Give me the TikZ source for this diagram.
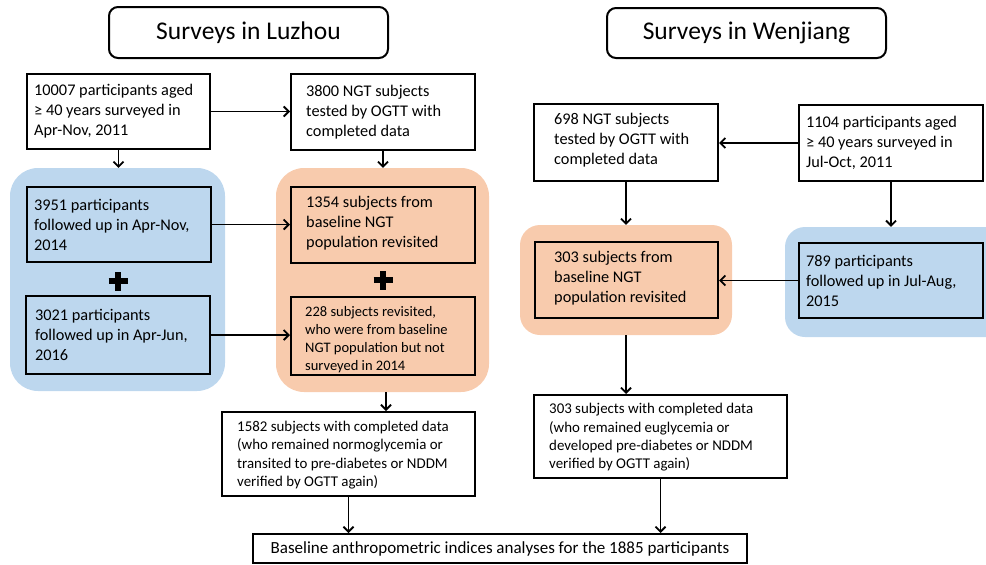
\documentclass[tikz,border=0pt]{standalone}
\usepackage{fontspec}
\setmainfont{Carlito}
\usetikzlibrary{arrows.meta}
\definecolor{regblue}{HTML}{BDD7EE}
\definecolor{regorange}{HTML}{F8CBAD}
\begin{document}
\begin{tikzpicture}[x=1pt,y=-1pt,
  box/.style={draw, line width=2pt, inner sep=0pt},
  txt/.style={anchor=west, align=left, inner sep=0pt},
  region/.style={inner sep=0pt, rounded corners=28pt},
  sregion/.style={inner sep=0pt, rounded corners=20pt},
  titlebox/.style={draw, line width=2pt, rounded corners=9pt, inner sep=0pt, font=\fontsize{25.5}{30}\selectfont},
  arr/.style={line width=1.8pt, -{Straight Barb[length=5pt,width=10pt]}},
  bigfont/.style={font=\fontsize{16.3}{20}\selectfont},
  midfont/.style={font=\fontsize{14.9}{18.3}\selectfont},
  smallfont/.style={font=\fontsize{14.5}{18}\selectfont},
  plusmark/.style={line width=5.5pt}
]
\useasboundingbox (0,0) rectangle (986,565);

% background regions
\node[region, fill=regblue, minimum width=215pt, minimum height=223pt] (regLB) at (117.5,279.5) {};
\node[region, fill=regorange, minimum width=213pt, minimum height=224pt] (regLO) at (382.5,280) {};
\node[sregion, fill=regorange, minimum width=212pt, minimum height=110pt] (regRO) at (626,280) {};
\begin{scope}
\clip (0,0) rectangle (986,565);
\node[sregion, fill=regblue, minimum width=225pt, minimum height=110pt] (regRB) at (897.5,282) {};
\end{scope}

% titles
\node[titlebox, minimum width=279pt, minimum height=51pt] (tL) at (248.5,32.5) {Surveys in Luzhou\hspace{19pt}};
\node[titlebox, minimum width=279pt, minimum height=50pt] (tW) at (746.5,33) {Surveys in Wenjiang};

% Luzhou boxes
\node[box, fill=white, minimum width=183pt, minimum height=75pt] (A) at (118.5,111.5) {};
\node[txt, bigfont] (At) at ([xshift=8pt]A.west) {10007 participants aged\\ ≥ 40 years surveyed in\\ Apr-Nov, 2011};
\node[box, fill=white, minimum width=184pt, minimum height=76pt] (B) at (383,112) {};
\node[txt, bigfont] (Bt) at ([xshift=16pt]B.west) {3800 NGT subjects\\ tested by OGTT with\\ completed data};
\node[box, fill=regblue, minimum width=184pt, minimum height=75pt] (C) at (119,224.5) {};
\node[txt, bigfont] (Ct) at ([xshift=8pt]C.west) {3951 participants\\ followed up in Apr-Nov,\\ 2014};
\node[box, fill=regorange, minimum width=184pt, minimum height=76pt] (D) at (383,225) {};
\node[txt, bigfont] (Dt) at ([xshift=16pt,yshift=2pt]D.west) {1354 subjects from\\ baseline NGT\\ population revisited};
\node[box, fill=regblue, minimum width=184pt, minimum height=78pt] (E) at (118,335) {};
\node[txt, bigfont] (Et) at ([xshift=10pt]E.west) {3021 participants\\ followed up in Apr-Jun,\\ 2016};
\node[box, fill=regorange, minimum width=184pt, minimum height=78pt] (F) at (383,336) {};
\node[txt, smallfont] (Ft) at ([xshift=15pt,yshift=-3.5pt]F.west) {228 subjects revisited,\\ who were from baseline\\ NGT population but not\\ surveyed in 2014};
\node[box, fill=white, minimum width=253pt, minimum height=84pt] (G) at (348.5,454) {};
\node[txt, midfont] (Gt) at ([xshift=16pt,yshift=-1pt]G.west) {1582 subjects with completed data\\ (who remained normoglycemia or\\ transited to pre-diabetes or NDDM\\ verified by OGTT again)};

% plus signs
\coordinate (plusL) at (118,281);
\coordinate (plusR) at (383,280);
\draw[plusmark] ([xshift=-9.5pt]plusL) -- ([xshift=9.5pt]plusL);
\draw[plusmark] ([yshift=-9.5pt]plusL) -- ([yshift=9.5pt]plusL);
\draw[plusmark] ([xshift=-9.5pt]plusR) -- ([xshift=9.5pt]plusR);
\draw[plusmark] ([yshift=-9.5pt]plusR) -- ([yshift=9.5pt]plusR);

% Wenjiang boxes
\node[box, fill=white, minimum width=184pt, minimum height=77pt] (I) at (626,142.5) {};
\node[txt, bigfont] (It) at ([xshift=21pt,yshift=2pt]I.west) {698 NGT subjects\\ tested by OGTT with\\ completed data};
\node[box, fill=white, minimum width=184pt, minimum height=76pt] (J) at (891,143) {};
\node[txt, bigfont] (Jt) at ([xshift=8pt]J.west) {1104 participants aged\\ ≥ 40 years surveyed in\\ Jul-Oct, 2011};
\node[box, fill=regorange, minimum width=183pt, minimum height=76pt] (K) at (626.5,280) {};
\node[txt, bigfont] (Kt) at ([xshift=20pt,yshift=2pt]K.west) {303 subjects from\\ baseline NGT\\ population revisited};
\node[box, fill=regblue, minimum width=184pt, minimum height=75pt] (L) at (891,280.5) {};
\node[txt, bigfont] (Lt) at ([xshift=8pt]L.west) {789 participants\\ followed up in Jul-Aug,\\ 2015};
\node[box, fill=white, minimum width=253pt, minimum height=83pt] (M) at (660.5,436.5) {};
\node[txt, midfont] (Mt) at ([xshift=16pt,yshift=-1pt]M.west) {303 subjects with completed data\\ (who remained euglycemia or\\ developed pre-diabetes or NDDM\\ verified by OGTT again)};

% bottom box
\node[box, font=\fontsize{17}{20}\selectfont, fill=white, minimum width=494pt, minimum height=29pt] (H) at (500,548.5)
  {Baseline anthropometric indices analyses for the 1885 participants};

% connectors
\draw[arr] (A.east) -- (A.east -| B.west);
\draw[arr] (A.south) -- (A.south |- regLB.north);
\draw[arr] (B.south) -- (B.south |- regLO.north);
\draw[arr] (C.east) -- (C.east -| D.west);
\draw[arr] (E.east) -- (E.east -| F.west);
\draw[arr] ([xshift=3.5pt]regLO.south) -- ([xshift=3.5pt]regLO.south |- G.north);
\draw[arr] (G.south) -- (G.south |- H.north);
\draw[arr] (J.west) -- (J.west -| I.east);
\draw[arr] (I.south) -- (I.south |- regRO.north);
\draw[arr] (J.south) -- (J.south |- regRB.north);
\draw[arr] (L.west) -- (L.west -| K.east);
\draw[arr] (regRO.south) -- (regRO.south |- M.north);
\draw[arr] (M.south) -- (M.south |- H.north);
\end{tikzpicture}
\end{document}
